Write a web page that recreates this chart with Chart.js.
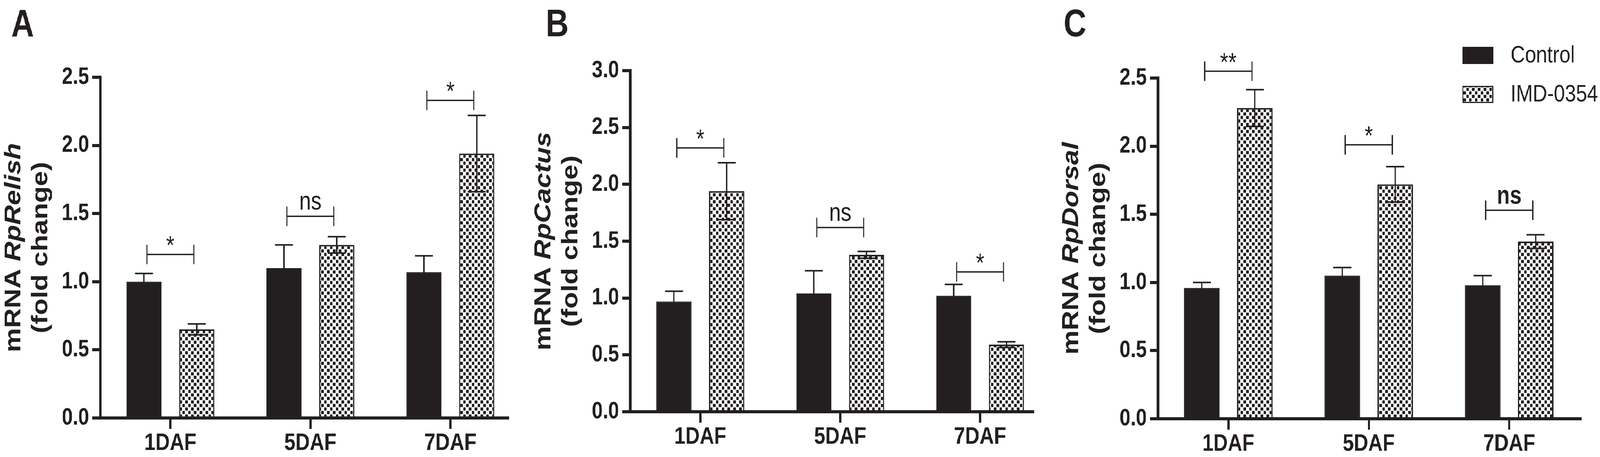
<!DOCTYPE html>
<html>
<head>
<meta charset="utf-8">
<script src="https://cdn.jsdelivr.net/npm/chart.js@4"></script>
<style>
  html, body { margin: 0; padding: 0; background: #fff; overflow: hidden; width: 100vw; height: 100vh; }
  #stage { position: absolute; left: 0; top: 0; width: 4975px; height: 1171px; transform-origin: 0 0; }
  #stage canvas { position: absolute; top: 0; }
</style>
</head>
<body>
<div id="stage">
  <canvas id="panelA" style="left:0px"></canvas>
  <canvas id="panelB" style="left:1650px"></canvas>
  <canvas id="panelC" style="left:3290px"></canvas>
</div>
<script>
// data
const categories = ['1DAF', '5DAF', '7DAF'];
const seriesNames = ['Control', 'IMD-0354'];

const relishControl = [1.00, 1.10, 1.07];
const relishControlErr = [0.06, 0.17, 0.12];
const relishImd = [0.65, 1.27, 1.94];
const relishImdErr = [0.04, 0.06, 0.28];
const relishSigLevel = [1.20, 1.48, 2.33];
const relishSigText = ['*', 'ns', '*'];
const relishTicks = [0, 0.5, 1.0, 1.5, 2.0, 2.5];

const cactusControl = [0.97, 1.04, 1.02];
const cactusControlErr = [0.09, 0.20, 0.10];
const cactusImd = [1.94, 1.38, 0.59];
const cactusImdErr = [0.25, 0.03, 0.025];
const cactusSigLevel = [2.32, 1.62, 1.23];
const cactusSigText = ['*', 'ns', '*'];
const cactusTicks = [0, 0.5, 1.0, 1.5, 2.0, 2.5, 3.0];

const dorsalControl = [0.96, 1.05, 0.98];
const dorsalControlErr = [0.04, 0.06, 0.07];
const dorsalImd = [2.28, 1.72, 1.30];
const dorsalImdErr = [0.135, 0.13, 0.05];
const dorsalSigLevel = [2.55, 2.01, 1.53];
const dorsalSigText = ['**', '*', 'ns'];
const dorsalTicks = [0, 0.5, 1.0, 1.5, 2.0, 2.5];

const INK = '#231f20';
const FONT = '"Liberation Sans", Arial, Helvetica, sans-serif';

Chart.defaults.font.family = FONT;
Chart.defaults.color = INK;

// the window can come out narrower than 4975, so stretch the figure to fill it
const stage = document.getElementById('stage');
stage.style.transform = 'scale(' + (window.innerWidth / 4975) + ',' + (window.innerHeight / 1171) + ')';

// checkerboard fill for the IMD-0354 bars
function checkerPattern() {
  const c = document.createElement('canvas');
  c.width = 18; c.height = 18;
  const g = c.getContext('2d');
  g.fillStyle = '#fff';
  g.fillRect(0, 0, 18, 18);
  g.fillStyle = INK;
  g.fillRect(0, 0, 8, 8);
  g.fillRect(9, 9, 8, 8);
  return g.createPattern(c, 'repeat');
}
const checker = checkerPattern();

// x axis line, error bars, significance brackets, y title, panel letter, legend
const panelExtras = {
  id: 'panelExtras',
  afterDatasetsDraw(chart, args, opts) {
    const ctx = chart.ctx;
    const y = chart.scales.y;
    const area = chart.chartArea;
    ctx.save();
    ctx.strokeStyle = INK;

    // x axis line stops a little past the last bar, like the original
    const bars = chart.getDatasetMeta(1).data;
    const last = bars[bars.length - 1];
    ctx.lineWidth = 8;
    ctx.beginPath();
    ctx.moveTo(area.left - 4, area.bottom);
    ctx.lineTo(last.x + last.width / 2 + opts.axisTail, area.bottom);
    ctx.stroke();

    ctx.lineWidth = 4;
    chart.data.datasets.forEach((ds, i) => {
      chart.getDatasetMeta(i).data.forEach((bar, j) => {
        const v = ds.data[j], e = opts.errors[i][j];
        const top = y.getPixelForValue(v + e);
        const bot = y.getPixelForValue(v - e);
        const half = 28;
        ctx.beginPath();
        ctx.moveTo(bar.x, bot); ctx.lineTo(bar.x, top);
        ctx.moveTo(bar.x - half, top); ctx.lineTo(bar.x + half, top);
        ctx.moveTo(bar.x - half, bot); ctx.lineTo(bar.x + half, bot);
        ctx.stroke();
      });
    });
    ctx.restore();
  },
  afterDraw(chart, args, opts) {
    const ctx = chart.ctx;
    const area = chart.chartArea;
    const y = chart.scales.y;
    const m0 = chart.getDatasetMeta(0).data;
    const m1 = chart.getDatasetMeta(1).data;
    ctx.save();

    // brackets
    ctx.strokeStyle = INK;
    ctx.fillStyle = INK;
    ctx.lineWidth = 3.5;
    opts.sigLevel.forEach((lvl, j) => {
      const x0 = m0[j].x + 9, x1 = m1[j].x - 9;
      const yb = y.getPixelForValue(lvl);
      ctx.beginPath();
      ctx.moveTo(x0, yb); ctx.lineTo(x1, yb);
      ctx.moveTo(x0, yb - 25); ctx.lineTo(x0, yb + 25);
      ctx.moveTo(x1, yb - 25); ctx.lineTo(x1, yb + 25);
      ctx.stroke();
      const label = opts.sigText[j];
      const cx = (x0 + x1) / 2;
      ctx.textAlign = 'center';
      ctx.textBaseline = 'alphabetic';
      if (label === 'ns') {
        ctx.font = (opts.nsBold ? 'bold ' : '') + '66px ' + FONT;
        ctx.fillText(label, cx, yb - 17);
      } else {
        ctx.font = '66px ' + FONT;
        const mt = ctx.measureText(label);
        const mid = (mt.actualBoundingBoxAscent - mt.actualBoundingBoxDescent) / 2;
        ctx.fillText(label, cx, yb - 35 + mid);
      }
    });

    // y axis title, two lines, gene name in italics
    const cy = (area.top + area.bottom) / 2;
    const line1a = 'mRNA ', line1b = opts.gene;
    ctx.textAlign = 'left';
    ctx.textBaseline = 'alphabetic';
    ctx.save();
    ctx.translate(area.left - 249, cy);
    ctx.rotate(-Math.PI / 2);
    ctx.font = 'bold 70px ' + FONT;
    const wa = ctx.measureText(line1a).width;
    ctx.font = 'italic bold 70px ' + FONT;
    const wb = ctx.measureText(line1b).width;
    const sx = -(wa + wb) / 2;
    ctx.font = 'bold 70px ' + FONT;
    ctx.fillText(line1a, sx, 0);
    ctx.font = 'italic bold 70px ' + FONT;
    ctx.fillText(line1b, sx + wa, 0);
    ctx.restore();
    ctx.save();
    ctx.translate(area.left - 165, cy);
    ctx.rotate(-Math.PI / 2);
    ctx.font = 'bold 70px ' + FONT;
    ctx.textAlign = 'center';
    ctx.fillText('(fold change)', 0, 0);
    ctx.restore();

    // panel letter
    ctx.font = 'bold 98px ' + FONT;
    ctx.textAlign = 'left';
    ctx.textBaseline = 'alphabetic';
    ctx.fillText(opts.letter, opts.letterX, 93);

    // legend
    if (opts.legend) {
      const lg = opts.legend;
      ctx.font = '62px ' + FONT;
      ctx.textBaseline = 'middle';
      chart.data.datasets.forEach((ds, i) => {
        const top = lg.y + i * lg.step;
        ctx.fillStyle = ds.backgroundColor;
        ctx.fillRect(lg.x, top, 96, 44);
        ctx.strokeStyle = INK;
        ctx.lineWidth = 3;
        ctx.strokeRect(lg.x + 1.5, top + 1.5, 93, 41);
        ctx.fillStyle = INK;
        ctx.fillText(ds.label, lg.x + 150, top + 23);
      });
    }
    ctx.restore();
  }
};

function makePanel(id, ctrl, ctrlErr, imd, imdErr, sigLevel, sigText, ticks, gene, layout) {
  const canvas = document.getElementById(id);
  canvas.width = layout.width;
  canvas.height = 1171;
  const ymax = ticks[ticks.length - 1];
  return new Chart(canvas, {
    type: 'bar',
    data: {
      labels: categories,
      datasets: [
        { label: seriesNames[0], data: ctrl, backgroundColor: INK, borderColor: INK, borderWidth: 2 },
        { label: seriesNames[1], data: imd, backgroundColor: checker, borderColor: INK, borderWidth: 4 }
      ]
    },
    options: {
      responsive: false,
      animation: false,
      categoryPercentage: 0.754,
      barPercentage: 0.67,
      layout: { padding: { top: layout.top, right: layout.padRight, left: 0, bottom: 0 } },
      plugins: {
        legend: { display: false },
        tooltip: { enabled: false },
        panelExtras: {
          errors: [ctrlErr, imdErr],
          sigLevel: sigLevel,
          sigText: sigText,
          gene: gene,
          letter: layout.letter,
          letterX: layout.letterX,
          nsBold: layout.nsBold,
          legend: layout.legend,
          axisTail: layout.axisTail
        }
      },
      scales: {
        x: {
          offset: true,
          grid: { offset: false, drawOnChartArea: false, drawTicks: true, tickLength: 28, lineWidth: 7, color: INK },
          border: { display: false },
          ticks: { font: { size: 62, weight: 'bold' }, color: INK, padding: 0 },
          afterFit: s => { s.height = 1171 - layout.bottom; }
        },
        y: {
          min: 0,
          max: ymax,
          afterBuildTicks: s => { s.ticks = ticks.map(v => ({ value: v })); },
          ticks: { font: { size: 61, weight: 'bold' }, color: INK, padding: 10, callback: v => Number(v).toFixed(1) },
          grid: { drawOnChartArea: false, drawTicks: true, tickLength: 25, lineWidth: 8, color: INK },
          border: { display: true, width: 8, color: INK },
          afterFit: s => { s.width = layout.left; }
        }
      }
    },
    plugins: [panelExtras]
  });
}

makePanel('panelA', relishControl, relishControlErr, relishImd, relishImdErr,
  relishSigLevel, relishSigText, relishTicks, 'RpRelish',
  { width: 1650, left: 312, top: 198, bottom: 1071, padRight: 32, letter: 'A', letterX: 35, axisTail: 46 });

makePanel('panelB', cactusControl, cactusControlErr, cactusImd, cactusImdErr,
  cactusSigLevel, cactusSigText, cactusTicks, 'RpCactus',
  { width: 1640, left: 310, top: 181, bottom: 1055, padRight: 25, letter: 'B', letterX: 47, axisTail: 31 });

makePanel('panelC', dorsalControl, dorsalControlErr, dorsalImd, dorsalImdErr,
  dorsalSigLevel, dorsalSigText, dorsalTicks, 'RpDorsal',
  { width: 1685, left: 311, top: 200, bottom: 1073, padRight: 64, letter: 'C', letterX: 17, nsBold: true,
    legend: { x: 1257, y: 120, step: 100 }, axisTail: 88 });
</script>
</body>
</html>
